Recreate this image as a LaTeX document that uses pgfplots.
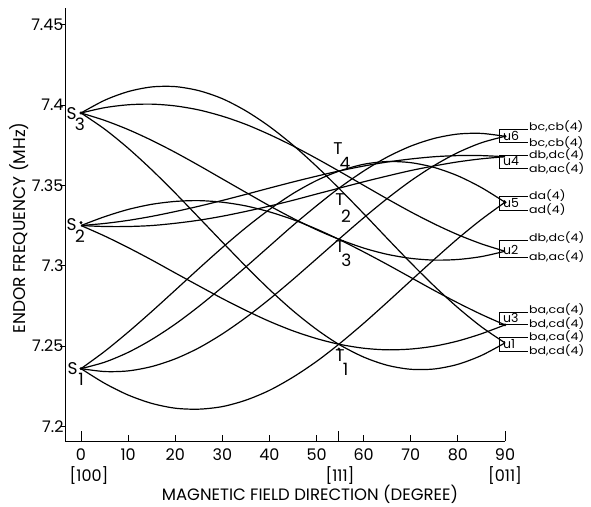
\documentclass[border=0pt]{standalone}
\usepackage{fontspec}
\setmainfont{Poppins}
\usepackage{pgfplots}
\usepackage{pgfplotstable}
\pgfplotsset{compat=1.18}

\pgfplotstableread{
th c1 c2 c3 c4 c5 c6 c7 c8 c9 c10 c11 c12
0 7.3950 7.3950 7.3950 7.3950 7.3250 7.3250 7.3250 7.3250 7.2360 7.2360 7.2360 7.2360
5 7.4029 7.3850 7.3983 7.3904 7.3305 7.3185 7.3263 7.3244 7.2467 7.2269 7.2400 7.2342
10 7.4083 7.3731 7.4001 7.3847 7.3350 7.3113 7.3282 7.3244 7.2587 7.2196 7.2461 7.2346
15 7.4112 7.3597 7.4005 7.3780 7.3382 7.3036 7.3307 7.3250 7.2715 7.2144 7.2541 7.2373
20 7.4114 7.3452 7.3994 7.3705 7.3400 7.2955 7.3337 7.3264 7.2848 7.2114 7.2637 7.2421
25 7.4089 7.3300 7.3969 7.3624 7.3405 7.2875 7.3370 7.3283 7.2982 7.2108 7.2747 7.2489
30 7.4039 7.3147 7.3930 7.3540 7.3395 7.2796 7.3406 7.3308 7.3113 7.2124 7.2867 7.2576
35 7.3963 7.2996 7.3879 7.3456 7.3372 7.2722 7.3444 7.3338 7.3237 7.2164 7.2993 7.2678
40 7.3866 7.2852 7.3816 7.3373 7.3335 7.2654 7.3483 7.3371 7.3350 7.2225 7.3122 7.2792
45 7.3750 7.2720 7.3745 7.3295 7.3287 7.2595 7.3521 7.3407 7.3449 7.2307 7.3251 7.2915
50 7.3618 7.2604 7.3667 7.3224 7.3228 7.2547 7.3557 7.3446 7.3530 7.2405 7.3373 7.3043
54.74 7.3482 7.2511 7.3589 7.3165 7.3164 7.2512 7.3589 7.3482 7.3588 7.2512 7.3482 7.3165
60 7.3324 7.2432 7.3500 7.3110 7.3086 7.2487 7.3620 7.3522 7.3631 7.2642 7.3589 7.3298
65 7.3170 7.2381 7.3416 7.3071 7.3008 7.2477 7.3645 7.3558 7.3648 7.2773 7.3676 7.3418
70 7.3018 7.2356 7.3335 7.3046 7.2927 7.2482 7.3664 7.3592 7.3641 7.2907 7.3744 7.3528
75 7.2873 7.2358 7.3260 7.3035 7.2846 7.2500 7.3678 7.3621 7.3611 7.3040 7.3792 7.3624
80 7.2739 7.2387 7.3193 7.3039 7.2769 7.2532 7.3685 7.3646 7.3559 7.3169 7.3819 7.3704
85 7.2620 7.2442 7.3136 7.3057 7.2697 7.2577 7.3685 7.3665 7.3486 7.3288 7.3823 7.3765
90 7.2520 7.2520 7.3090 7.3090 7.2632 7.2632 7.3678 7.3678 7.3395 7.3395 7.3805 7.3805
}\curves

% #1 top line, #2 bottom line, #3 u label y, #4 u label, #5/#6 labels, #7/#8 label y
\newcommand\ulab[8]{%
  \draw[line width=0.6pt] (528,{506-#1}) -- (499,{506-#1}) -- (499,{506-#2}) -- (528,{506-#2});
  \node[anchor=west,inner sep=0pt,font=\fontsize{10.5}{11}\selectfont] at (529,{506-#7}) {\scalebox{1.2}[1]{#5}};
  \node[anchor=west,inner sep=0pt,font=\fontsize{10.5}{11}\selectfont] at (529,{506-#8}) {\scalebox{1.2}[1]{#6}};
  \node[anchor=west,inner sep=0pt,font=\fontsize{12.5}{13}\selectfont] at (503,{506-#3}) {#4};
}

\begin{document}
\begin{tikzpicture}[x=1pt,y=1pt]
\useasboundingbox (0,0) rectangle (591,506);
\begin{axis}[
  at={(65pt,65pt)}, anchor=south west,
  width=440pt, height=433pt, scale only axis,
  xmin=-3.4, xmax=90, ymin=7.191, ymax=7.4603,
  axis lines*=left,
  axis line style={line width=0.9pt},
  tick align=inside,
  tick style={black, line width=0.8pt},
  major tick length=6pt,
  xtick={0,10,...,90},
  xticklabels={0,10,20,30,40,50,60,70,80,90},
  extra x ticks={0,54.74,90},
  extra x tick labels={},
  extra x tick style={major tick length=10pt},
  ytick={7.2,7.25,7.3,7.35,7.4,7.45},
  yticklabels={7.2,7.25,7.3,7.35,7.4,7.45},
  ytick style={xshift=-5pt},
  /pgf/number format/assume math mode=true,
  tick label style={font=\fontsize{16}{18}\selectfont},
  xticklabel style={yshift=-4pt},
  yticklabel style={xshift=2pt},
  clip=false,
]
\foreach \c in {c1,c2,c3,c4,c5,c6,c7,c8,c9,c10,c11,c12}{
  \addplot[black, line width=1.2pt, smooth, no markers] table[x=th, y=\c] {\curves};
}
\addplot[only marks, mark=*, mark size=1.3pt, black] coordinates {
  (0,7.395) (0,7.3268) (0,7.236) (54.74,7.2482) (90,7.3805) (90,7.2632) (90,7.3395)
};
\end{axis}

% axis labels
\node[font=\fontsize{16.5}{18}\selectfont] at (310,12) {MAGNETIC FIELD DIRECTION (DEGREE)};
\node[font=\fontsize{17}{18}\selectfont, rotate=90] at (19,278) {ENDOR FREQUENCY (MHz)};
\node[font=\fontsize{16}{18}\selectfont] at (89,30) {[100]};
\node[font=\fontsize{16}{18}\selectfont] at (340,30) {[111]};
\node[font=\fontsize{16}{18}\selectfont] at (505,30) {[011]};

% S and T labels
\begin{scope}[every node/.style={font=\fontsize{17}{18}\selectfont, inner sep=0pt}]
\node at (71.5,392.5) {S}; \node at (80,382) {3};
\node at (71.5,281) {S}; \node at (80,269.5) {2};
\node at (72.5,137.5) {S}; \node at (81,127) {1};
\node at (338,357) {T}; \node at (345,343) {4};
\node at (340,306) {T}; \node at (346,290) {2};
\node at (340,259) {T}; \node at (346.5,246) {3};
\node at (340,150) {T}; \node at (345.5,137) {1};
\end{scope}

% right-hand labels
\ulab{129}{142}{136}{u6}{bc,cb(4)}{bc,cb(4)}{127}{143}
\ulab{155}{168}{161}{u4}{db,dc(4)}{ab,ac(4)}{155}{169}
\ulab{196}{210}{203}{u5}{da(4)}{ad(4)}{196}{210}
\ulab{240}{257}{250}{u2}{db,dc(4)}{ab,ac(4)}{238}{257}
\ulab{312}{324}{318}{u3}{ba,ca(4)}{bd,cd(4)}{310}{324}
\ulab{337}{351}{344}{u1}{ba,ca(4)}{bd,cd(4)}{337}{351}
\end{tikzpicture}
\end{document}
